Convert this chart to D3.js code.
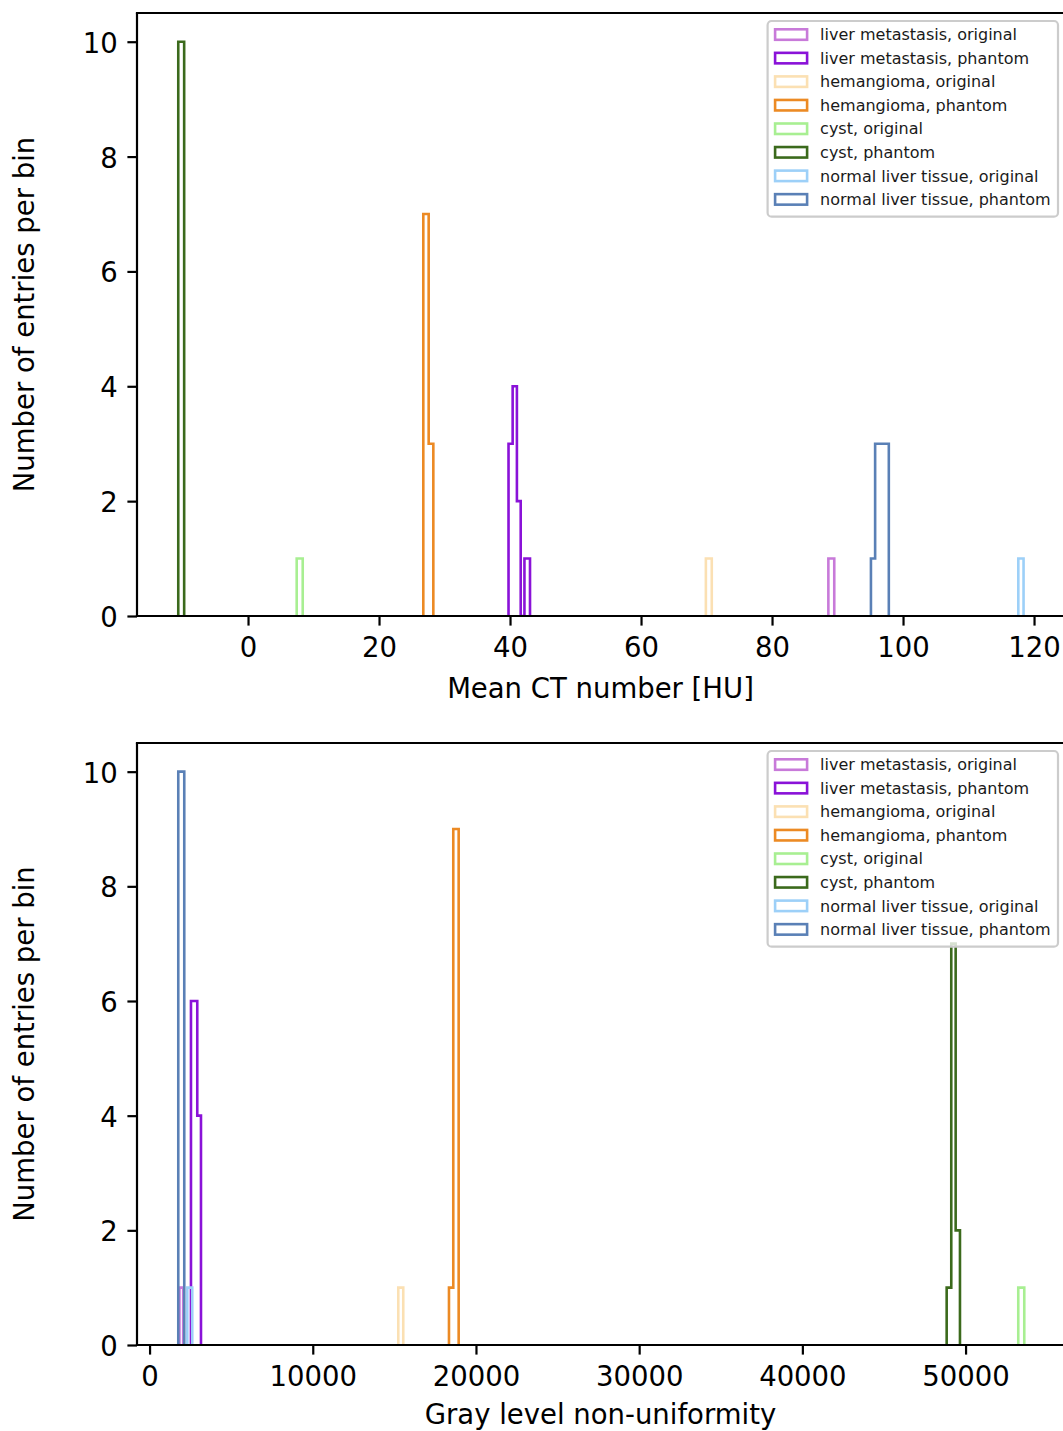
<!DOCTYPE html>
<html>
<head>
<meta charset="utf-8">
<script src="https://cdn.jsdelivr.net/npm/d3@7"></script>
<style>
  html, body { margin: 0; padding: 0; background: #fff; }
  svg { display: block; font-family: "DejaVu Sans", sans-serif; }
</style>
</head>
<body>
<svg id="chart" width="1063" height="1431"></svg>
<script>
// ---------- data ----------
const seriesNames = [
  "liver metastasis, original",
  "liver metastasis, phantom",
  "hemangioma, original",
  "hemangioma, phantom",
  "cyst, original",
  "cyst, phantom",
  "normal liver tissue, original",
  "normal liver tissue, phantom"
];
const seriesColors = ["#c87ad9", "#8a12d8", "#fbe0b3", "#ec8a24", "#a8ef92", "#3b6a1c", "#9dd0f8", "#5a80b6"];

// Panel 1: Mean CT number [HU] - bin edges and counts per series
const ctEdges = [
  [88.6, 89.5],
  [39.77, 40.4, 41.05, 41.63, 42.2, 43.05],
  [69.9, 70.8],
  [26.76, 27.58, 28.29],
  [7.43, 8.35],
  [-10.65, -9.75],
  [117.6, 118.4],
  [95.1, 95.74, 96.44, 97.13, 97.83]
];
const ctCounts = [
  [1],
  [3, 4, 2, 0, 1],
  [1],
  [7, 3],
  [1],
  [10],
  [1],
  [1, 3, 3, 3]
];
const ctTicks = [0, 20, 40, 60, 80, 100, 120];
const ctDomain = [-16.95, 124.88];

// Panel 2: Gray level non-uniformity - bin edges and counts per series
const glnuEdges = [
  [1830, 2060],
  [2537, 2923, 3150],
  [15240, 15545],
  [18346, 18610, 18940],
  [53229, 53597],
  [48842, 49124, 49393, 49657],
  [2310, 2616],
  [1759, 2126]
];
const glnuCounts = [
  [1],
  [6, 4],
  [1],
  [1, 9],
  [1],
  [1, 7, 2],
  [1],
  [10]
];
const glnuTicks = [0, 10000, 20000, 30000, 40000, 50000];
const glnuDomain = [-770, 56154];

const yTicks = [0, 2, 4, 6, 8, 10];
const yDomain = [0, 10.5];
const yLabel = "Number of entries per bin";
const xLabels = ["Mean CT number [HU]", "Gray level non-uniformity"];

// ---------- layout ----------
const svg = d3.select("#chart");
const left = 137, right = 1066;
const panels = [
  { top: 13, bottom: 616, edges: ctEdges, counts: ctCounts, ticks: ctTicks, domain: ctDomain, label: xLabels[0], labelOff: 82 },
  { top: 743, bottom: 1345, edges: glnuEdges, counts: glnuCounts, ticks: glnuTicks, domain: glnuDomain, label: xLabels[1], labelOff: 79 }
];
const fs = 27.5, tickLen = 9.6, tickPad = 9.6;

panels.forEach((p, pi) => {
  const x = d3.scaleLinear().domain(p.domain).range([left, right]);
  const y = d3.scaleLinear().domain(yDomain).range([p.bottom, p.top]);
  const g = svg.append("g");

  const clipId = "clip" + pi;
  svg.append("clipPath").attr("id", clipId)
    .append("rect").attr("x", left).attr("y", p.top)
    .attr("width", right - left).attr("height", p.bottom - p.top);

  // step histograms
  const line = d3.line().x(d => x(d[0])).y(d => y(d[1]));
  const hg = g.append("g").attr("clip-path", `url(#${clipId})`);
  p.edges.forEach((edges, si) => {
    const counts = p.counts[si];
    const pts = [[edges[0], 0]];
    counts.forEach((c, i) => { pts.push([edges[i], c]); pts.push([edges[i + 1], c]); });
    pts.push([edges[edges.length - 1], 0]);
    hg.append("path").attr("d", line(pts))
      .attr("fill", "none").attr("stroke", seriesColors[si])
      .attr("stroke-width", 2.6).attr("stroke-linejoin", "miter");
  });

  // axes
  const xAxis = d3.axisBottom(x).tickValues(p.ticks).tickFormat(d3.format("d"))
    .tickSize(tickLen).tickPadding(tickPad + 2);
  const gx = g.append("g").attr("transform", `translate(0,${p.bottom})`).call(xAxis);
  const yAxis = d3.axisLeft(y).tickValues(yTicks).tickFormat(d3.format("d"))
    .tickSize(tickLen).tickPadding(tickPad);
  const gy = g.append("g").attr("transform", `translate(${left},0)`).call(yAxis);
  [gx, gy].forEach(a => {
    a.select(".domain").remove();
    a.selectAll(".tick line").attr("stroke", "#000").attr("stroke-width", 2.2);
    a.selectAll(".tick text").attr("fill", "#000").style("font-size", fs + "px")
      .style("font-family", "'DejaVu Sans', sans-serif");
  });
  gy.selectAll(".tick text").attr("dy", "0.38em");

  // spines
  g.append("line").attr("x1", left).attr("x2", left).attr("y1", p.top).attr("y2", p.bottom)
    .attr("stroke", "#000").attr("stroke-width", 2.2);
  g.append("line").attr("x1", left).attr("x2", right).attr("y1", p.bottom).attr("y2", p.bottom)
    .attr("stroke", "#000").attr("stroke-width", 2.2).attr("stroke-linecap", "square");
  g.append("line").attr("x1", left).attr("x2", right).attr("y1", p.top).attr("y2", p.top)
    .attr("stroke", "#000").attr("stroke-width", 2.2).attr("stroke-linecap", "square");
  g.append("line").attr("x1", right).attr("x2", right).attr("y1", p.top).attr("y2", p.bottom)
    .attr("stroke", "#000").attr("stroke-width", 2.2);

  // axis labels
  g.append("text").attr("x", (left + right) / 2 - 1).attr("y", p.bottom + p.labelOff)
    .attr("text-anchor", "middle").style("font-size", fs + "px").attr("fill", "#000")
    .text(p.label);
  g.append("text")
    .attr("transform", `translate(34,${(p.top + p.bottom) / 2}) rotate(-90)`)
    .attr("text-anchor", "middle").style("font-size", fs + "px").attr("fill", "#000")
    .text(yLabel);

  // legend
  const lfs = 16, rowH = 23.55;
  const boxW = 290.4, boxH = 195.7;
  const bx = right - 8 - boxW, by = p.top + 8;
  const lg = g.append("g");
  lg.append("rect").attr("x", bx).attr("y", by).attr("width", boxW).attr("height", boxH)
    .attr("rx", 4).attr("ry", 4)
    .attr("fill", "#fff").attr("fill-opacity", 0.8)
    .attr("stroke", "#cccccc").attr("stroke-width", 2.2);
  seriesNames.forEach((name, i) => {
    const cy = by + 13.5 + i * rowH;
    lg.append("rect").attr("x", bx + 7.5).attr("y", cy - 5.2).attr("width", 32).attr("height", 10.5)
      .attr("fill", "none").attr("stroke", seriesColors[i]).attr("stroke-width", 2.6);
    lg.append("text").attr("x", bx + 52.5).attr("y", cy).attr("dy", "0.36em")
      .style("font-size", lfs + "px").attr("fill", "#1a1a1a").text(name);
  });
});
</script>
</body>
</html>
